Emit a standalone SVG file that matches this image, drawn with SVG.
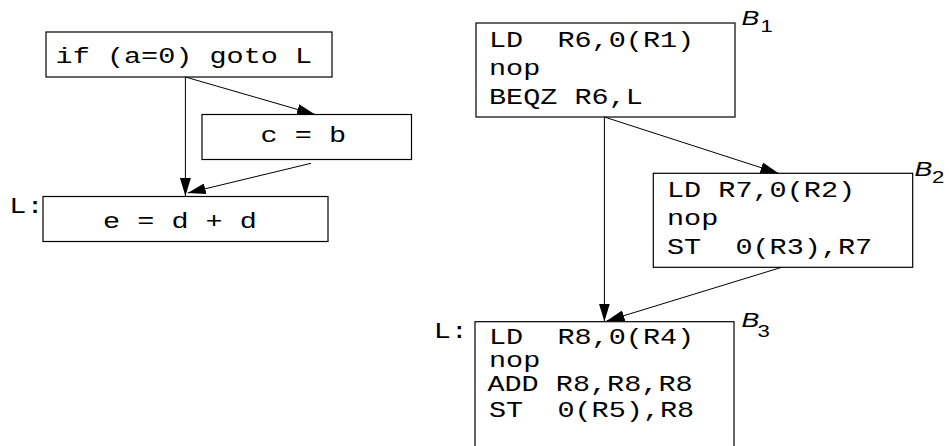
<svg xmlns="http://www.w3.org/2000/svg" width="949" height="446" viewBox="0 0 949 446">
<style>
.box{fill:#fff;stroke:#000;stroke-width:1.2}
.t{font-family:"Liberation Mono","Courier New",monospace;font-size:21.5px;fill:#000;white-space:pre}
.b{font-family:"Liberation Sans",Arial,sans-serif;font-style:italic;font-size:20.5px;fill:#000}
.s{font-family:"Liberation Sans",Arial,sans-serif;font-size:17px;fill:#000}
.e{fill:none;stroke:#000;stroke-width:1}
</style>
<defs>
<marker id="ah" markerUnits="userSpaceOnUse" markerWidth="18" markerHeight="11" refX="18" refY="5.5" orient="auto">
<path d="M0,0 L18,5.5 L0,11 z" fill="#000"/>
</marker>
</defs>
<rect width="949" height="446" fill="#fff"/>
<g id="n-if">
<rect class="box" x="46" y="32" width="286" height="45"/>
<text class="t" xml:space="preserve" transform="matrix(1.326 0 0 1 55.6 62.7)">if (a=0) goto L</text>
</g>
<g id="n-cb">
<rect class="box" x="202" y="114.5" width="209.5" height="45"/>
<text class="t" xml:space="preserve" transform="matrix(1.326 0 0 1 260.5 141.7)">c = b</text>
</g>
<g id="n-edd">
<text class="t" transform="matrix(1.326 0 0 1 9.3 213.3)">L:</text>
<rect class="box" x="43" y="196.5" width="285" height="45"/>
<text class="t" xml:space="preserve" transform="matrix(1.326 0 0 1 103 227.7)">e = d + d</text>
</g>
<g id="n-b1">
<rect class="box" x="476" y="23" width="259" height="94"/>
<text class="t" xml:space="preserve" transform="matrix(1.326 0 0 1 489 47)"><tspan x="0" y="0">LD  R6,0(R1)</tspan><tspan x="0" y="28.3">nop</tspan><tspan x="0" y="56.6">BEQZ R6,L</tspan></text>
<text class="b" transform="matrix(1.3 0 0 1 741.5 25)">B</text>
<text class="s" transform="matrix(1.3 0 0 1 760.5 31.7)">1</text>
</g>
<g id="n-b2">
<rect class="box" x="653.3" y="173.3" width="259.4" height="94"/>
<text class="t" xml:space="preserve" transform="matrix(1.326 0 0 1 667 196.7)"><tspan x="0" y="0">LD R7,0(R2)</tspan><tspan x="0" y="28.5">nop</tspan><tspan x="0" y="57.3">ST  0(R3),R7</tspan></text>
<text class="b" transform="matrix(1.3 0 0 1 914.5 175.7)">B</text>
<text class="s" transform="matrix(1.3 0 0 1 932 183.3)">2</text>
</g>
<g id="n-b3">
<text class="t" transform="matrix(1.326 0 0 1 433.7 338.3)">L:</text>
<rect class="box" x="475" y="321.7" width="259" height="140"/>
<text class="t" xml:space="preserve" transform="matrix(1.326 0 0 1 489 344.3)"><tspan x="0" y="0">LD  R8,0(R4)</tspan><tspan x="0" y="23">nop</tspan></text>
<text class="t" xml:space="preserve" transform="matrix(1.326 0 0 1 487.4 391)">ADD R8,R8,R8</text>
<text class="t" xml:space="preserve" transform="matrix(1.326 0 0 1 489 417.3)">ST  0(R5),R8</text>
<text class="b" transform="matrix(1.3 0 0 1 741.5 326.7)">B</text>
<text class="s" transform="matrix(1.3 0 0 1 757.5 336.7)">3</text>
</g>
<g id="connectors">
<line class="e" x1="185.4" y1="77" x2="185.4" y2="196" marker-end="url(#ah)"/>
<line class="e" x1="185.4" y1="77" x2="315" y2="114.5" marker-end="url(#ah)"/>
<line class="e" x1="311" y1="163.3" x2="187.7" y2="193" marker-end="url(#ah)"/>
<line class="e" x1="604.4" y1="117" x2="604.4" y2="321.5" marker-end="url(#ah)"/>
<line class="e" x1="604.4" y1="117" x2="778.5" y2="173.3" marker-end="url(#ah)"/>
<line class="e" x1="781.7" y1="267.3" x2="606.5" y2="321" marker-end="url(#ah)"/>
</g>
</svg>
